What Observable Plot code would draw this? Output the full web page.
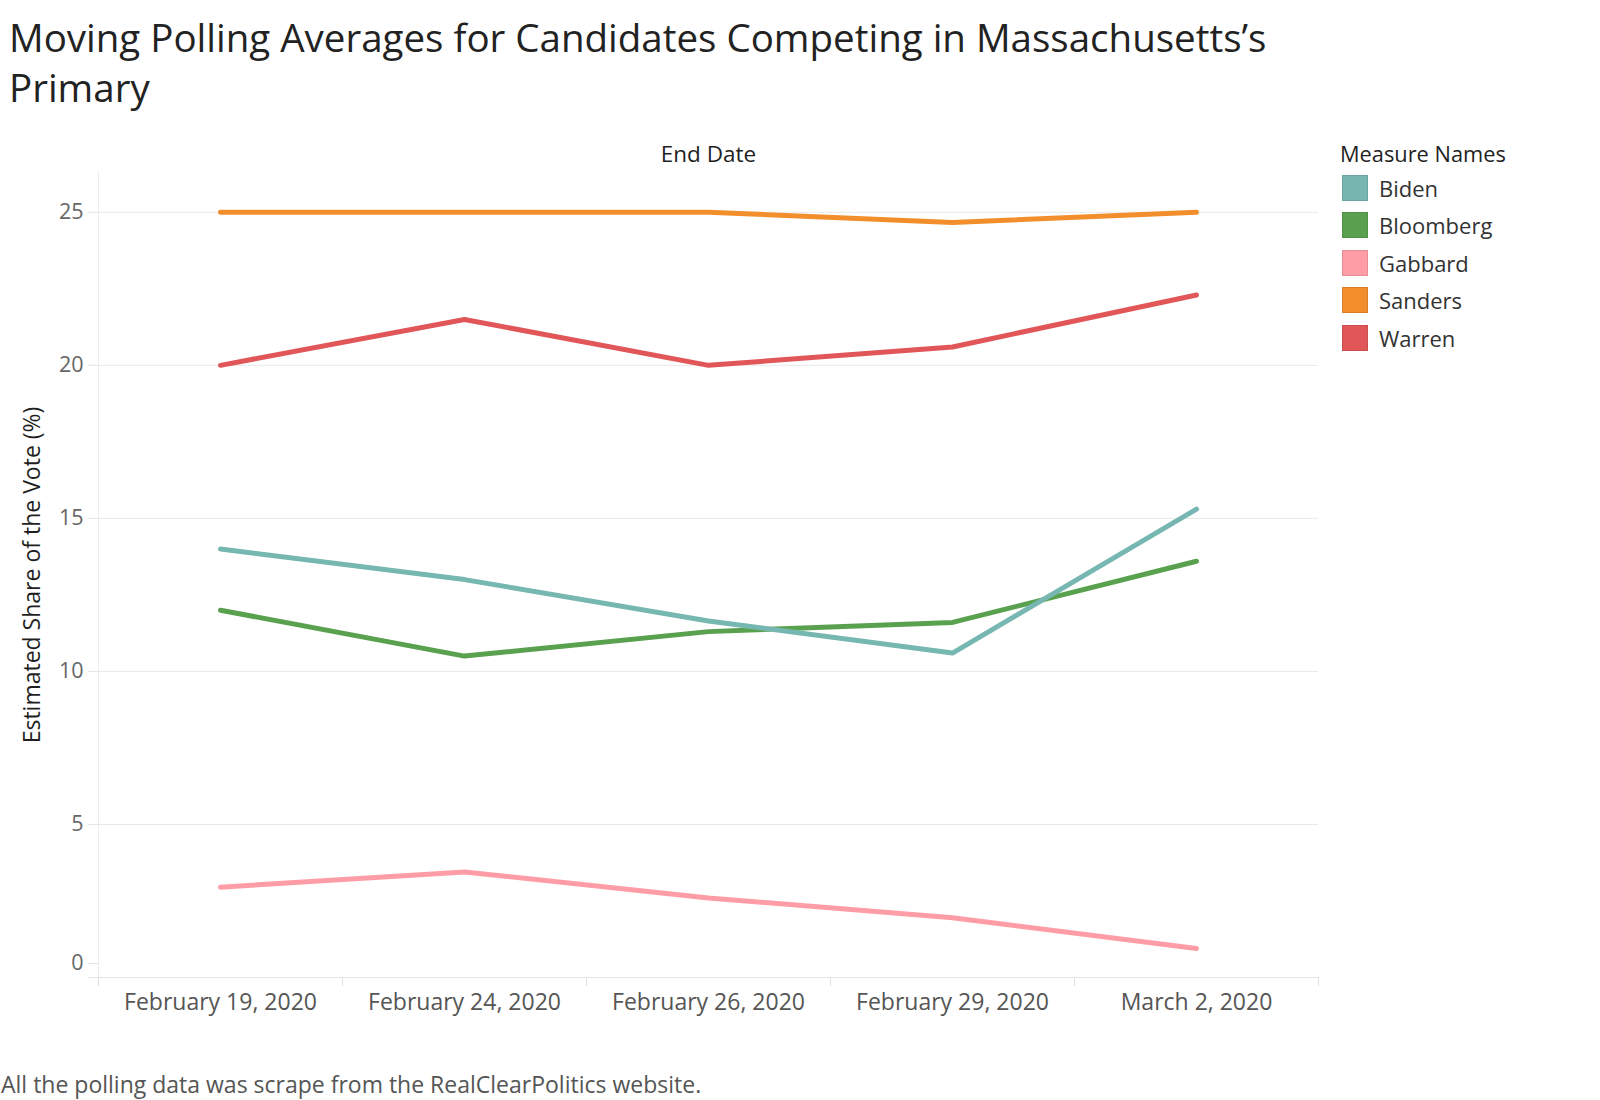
<!DOCTYPE html>
<html>
<head>
<meta charset="utf-8">
<script src="https://cdn.jsdelivr.net/npm/d3@7"></script>
<script src="https://cdn.jsdelivr.net/npm/@observablehq/plot@0.6"></script>
<style>
  html, body { margin: 0; padding: 0; background: #fff; }
  body { width: 1600px; height: 1100px; position: relative; overflow: hidden; font-family: "Open Sans", Lato, sans-serif; }
  #title { position: absolute; left: 9px; top: 12px; font-size: 38.5px; line-height: 50px; color: #222; white-space: nowrap; }
  #chart { position: absolute; left: 0; top: 130px; }
  #legend { position: absolute; left: 1340px; top: 141px; }
  #legend .lt { font-size: 21.8px; line-height: 26px; color: #1f1f1f; height: 28px; }
  #legend .row { display: flex; align-items: center; height: 37.5px; margin-left: 2px; }
  #legend .sw { width: 26px; height: 26px; box-sizing: border-box; margin-right: 11px; }
  #legend .lb { font-size: 22px; line-height: 26px; color: #333; }
  #caption { position: absolute; left: 1px; top: 1072px; font-size: 23px; line-height: 24px; color: #555; white-space: nowrap; }
</style>
</head>
<body>
<div id="title">Moving Polling Averages for Candidates Competing in Massachusetts’s<br>Primary</div>
<div id="chart"></div>
<div id="legend"></div>
<div id="caption">All the polling data was scrape from the RealClearPolitics website.</div>
<script>
// ---- data ----
const dates = ["February 19, 2020", "February 24, 2020", "February 26, 2020", "February 29, 2020", "March 2, 2020"];
const candidates = ["Biden", "Bloomberg", "Gabbard", "Sanders", "Warren"];
const colors = ["#76b7b2", "#59a14f", "#ff9da7", "#f28e2b", "#e15759"];
const biden = [14.0, 13.0, 11.65, 10.6, 15.3];
const bloomberg = [12.0, 10.5, 11.3, 11.6, 13.6];
const gabbard = [2.95, 3.45, 2.6, 1.95, 0.95];
const sanders = [25.0, 25.0, 25.0, 24.67, 25.0];
const warren = [20.0, 21.5, 20.0, 20.6, 22.3];
const yTicks = [0, 5, 10, 15, 20, 25];
const drawOrder = ["Gabbard", "Sanders", "Warren", "Bloomberg", "Biden"];

const seriesValues = { Biden: biden, Bloomberg: bloomberg, Gabbard: gabbard, Sanders: sanders, Warren: warren };
const rows = drawOrder.flatMap(c => seriesValues[c].map((v, i) => ({ candidate: c, i, date: dates[i], value: v })));
const separators = d3.range(dates.length + 1).map(i => i - 0.5);
const idx = dates.map((d, i) => i);

const chart = Plot.plot({
  width: 1330,
  height: 907,
  marginLeft: 98,
  marginRight: 12,
  marginTop: 42,
  marginBottom: 60,
  style: { fontFamily: "'Open Sans', Lato, sans-serif", background: "transparent", overflow: "visible" },
  x: { type: "linear", domain: [-0.5, dates.length - 0.5] },
  y: { domain: [0, 26.3] },
  color: { domain: candidates, range: colors },
  marks: [
    Plot.gridY({ ticks: yTicks.filter(t => t > 0), stroke: "#e9e9e9", strokeOpacity: 1 }),
    Plot.ruleY([0], { stroke: "#e4e4e4" }),
    Plot.ruleX([separators[0]], { stroke: "#ececec" }),
    Plot.axisY({ ticks: yTicks, tickSize: 10, tickPadding: 5, stroke: "#e4e4e4", fill: "#666", fontSize: 21.5,
                 tickFormat: d => d === 0 ? "" : String(d), label: null }),
    Plot.axisY({ ticks: [0], tickSize: 10, tickPadding: 5, stroke: "#e4e4e4", fill: "#666", fontSize: 21.5,
                 dy: -14, tickFormat: d => String(d), label: null }),
    Plot.axisX({ ticks: separators, tickSize: 9, stroke: "#e0e0e0", tickFormat: () => "", label: null }),
    Plot.axisX({ ticks: idx, tickSize: 0, tickPadding: 16, fill: "#555", fontSize: 23,
                 tickFormat: i => dates[i], label: null }),
    Plot.text(["End Date"], { frameAnchor: "top", dy: -26, fontSize: 22.5, fill: "#1f1f1f" }),
    Plot.text(["Estimated Share of the Vote (%)"], { frameAnchor: "left", textAnchor: "middle", rotate: -90, dx: -66,
                 fontSize: 23, fill: "#1f1f1f" }),
    Plot.line(rows, { x: "i", y: "value", z: "candidate", stroke: "candidate", strokeWidth: 5,
                      strokeLinecap: "round", strokeLinejoin: "round" })
  ]
});
document.getElementById("chart").appendChild(chart);

// ---- legend ----
const legend = document.getElementById("legend");
const lt = document.createElement("div");
lt.className = "lt";
lt.textContent = "Measure Names";
legend.appendChild(lt);
candidates.forEach((c, k) => {
  const row = document.createElement("div");
  row.className = "row";
  const sw = document.createElement("div");
  sw.className = "sw";
  sw.style.background = colors[k];
  sw.style.border = "1px solid " + d3.color(colors[k]).darker(0.3);
  const lb = document.createElement("div");
  lb.className = "lb";
  lb.textContent = c;
  row.appendChild(sw);
  row.appendChild(lb);
  legend.appendChild(row);
});
</script>
</body>
</html>
